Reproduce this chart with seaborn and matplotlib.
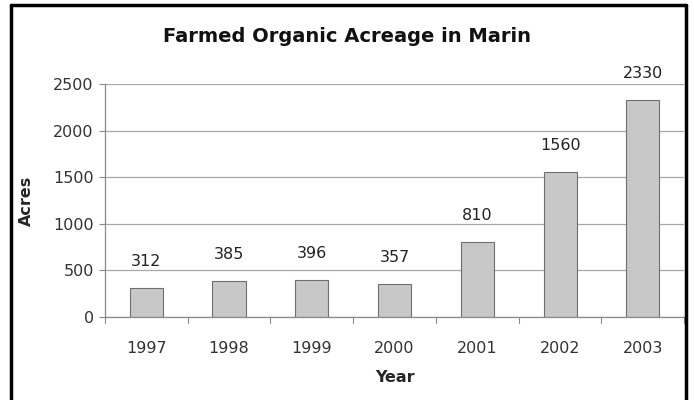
import matplotlib
matplotlib.use("Agg")
import matplotlib.pyplot as plt
import seaborn as sns
import pandas as pd
from matplotlib.lines import Line2D

years = ["1997", "1998", "1999", "2000", "2001", "2002", "2003"]
acres = [312, 385, 396, 357, 810, 1560, 2330]
y_ticks = [0, 500, 1000, 1500, 2000, 2500]

sns.set_theme(style="white")
plt.rcParams["font.family"] = ["DejaVu Sans"]

df = pd.DataFrame({"Year": years, "Acres": acres})

fig = plt.figure(figsize=(6.94, 4.0), dpi=100)
ax = fig.add_axes([0.151, 0.2075, 0.835, 0.5825])

sns.barplot(data=df, x="Year", y="Acres", ax=ax, color="#c8c8c8",
            edgecolor="#6e6e6e", linewidth=0.8, width=0.4, saturation=1)

ax.set_ylim(0, 2500)
ax.set_xlim(-0.5, len(years) - 0.5)
ax.set_yticks(y_ticks)
ax.set_yticklabels([str(v) for v in y_ticks], fontsize=11.5, color="#333333")
ax.tick_params(axis="x", labelsize=11.5, labelcolor="#333333", length=0, pad=17)
ax.tick_params(axis="y", length=4, width=0.8, color="#8a8a8a", left=True, pad=4)

# horizontal gridlines behind the bars
ax.set_axisbelow(True)
ax.yaxis.grid(True, color="#a8a8a8", linewidth=0.9)
ax.xaxis.grid(False)

for s in ["top", "right"]:
    ax.spines[s].set_visible(False)
for s in ["left", "bottom"]:
    ax.spines[s].set_color("#8a8a8a")
    ax.spines[s].set_linewidth(0.9)

# category separator ticks on the x axis
for b in range(len(years) + 1):
    ax.plot([b - 0.5, b - 0.5], [0, -0.025], transform=ax.get_xaxis_transform(),
            color="#8a8a8a", linewidth=0.8, clip_on=False)

# value labels above bars
for i, v in enumerate(acres):
    ax.annotate(str(v), (i, v), xytext=(0, 19), textcoords="offset points",
                ha="center", va="center", fontsize=11.5, color="#222222")

ax.set_xlabel("Year", fontsize=11.5, fontweight="bold", labelpad=10)
ax.set_ylabel("Acres", fontsize=11.5, fontweight="bold", labelpad=14)
fig.text(0.5, 1 - 37 / 400, "Farmed Organic Acreage in Marin", fontsize=14,
         fontweight="bold", ha="center", va="center", color="#111111")

# frame around the chart
W, H = 694, 400
fig.add_artist(Line2D([11 / W, 11 / W], [0, 1 - 5 / H], transform=fig.transFigure,
                      color="black", linewidth=2.5))
fig.add_artist(Line2D([11 / W, 686 / W], [1 - 5 / H, 1 - 5 / H],
                      transform=fig.transFigure, color="black", linewidth=2.5))
fig.add_artist(Line2D([686 / W, 686 / W], [0, 1 - 5 / H], transform=fig.transFigure,
                      color="black", linewidth=2.5))

fig.savefig("out.png", dpi=100)
